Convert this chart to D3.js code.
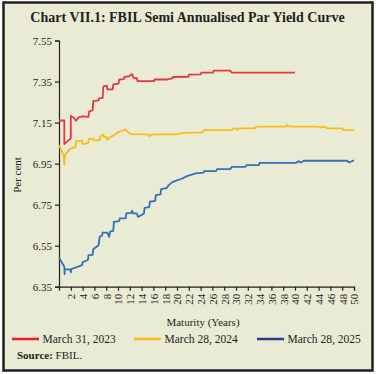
<!DOCTYPE html>
<html>
<head>
<meta charset="utf-8">
<script src="https://cdn.jsdelivr.net/npm/d3@7"></script>
<style>
  body { margin: 0; background: #fff; }
  svg text { font-family: "Liberation Serif", "Times New Roman", serif; fill: #231f20; }
</style>
</head>
<body>
<svg id="canvas" width="376" height="374"></svg>
<script>
// ---------------------------------------------------------------- //
// Data (maturity in years, yield in per cent)

var mar2023 = [[0,7.16],[0.9,7.16],[0.9,7.045],[2,7.073],[2,7.182],[2.5,7.175],[2.9,7.159],[3.3,7.175],[4,7.18],[5,7.178],
  [5.1,7.203],[5.7,7.21],[5.8,7.255],[6.7,7.258],[6.8,7.268],[7.4,7.27],[7.5,7.325],[8.1,7.33],[8.2,7.312],[9.1,7.312],
  [9.2,7.336],[10.1,7.34],[10.2,7.36],[11,7.362],[11.1,7.373],[12,7.376],[12.1,7.382],[12.4,7.386],[12.6,7.368],[13.2,7.366],
  [13.3,7.352],[16.1,7.352],[16.2,7.36],[18.4,7.36],[19.2,7.365],[19.3,7.372],[21.9,7.373],[22,7.384],[24,7.385],[24.1,7.393],
  [26.1,7.393],[26.2,7.403],[29,7.403],[29.3,7.393],[40,7.393]];

var mar2024 = [[0,7.04],[0.8,6.99],[0.9,6.945],[1,6.99],[1.5,7.01],[2,7.024],[2.8,7.03],[2.9,7.061],[3.9,7.061],[4,7.045],
  [4.9,7.05],[5.1,7.07],[5.8,7.072],[5.9,7.063],[6.9,7.063],[7,7.084],[7.4,7.086],[7.5,7.094],[7.6,7.08],[8.1,7.08],
  [8.2,7.066],[8.5,7.075],[9.2,7.087],[10,7.103],[11,7.113],[11.2,7.117],[12.1,7.094],[15.2,7.092],[15.3,7.084],[15.6,7.09],
  [16.2,7.092],[20.1,7.092],[20.9,7.1],[24.2,7.102],[24.6,7.113],[29.3,7.113],[29.6,7.122],[30.1,7.12],[30.3,7.114],[30.6,7.122],
  [33.2,7.122],[33.4,7.13],[38.4,7.13],[38.7,7.138],[39,7.13],[44,7.13],[44.3,7.125],[44.6,7.13],[45.2,7.128],[45.4,7.122],
  [48,7.122],[48.2,7.113],[50,7.113]];

var mar2025 = [[0,6.492],[0.9,6.447],[0.95,6.411],[1,6.434],[1.9,6.434],[2,6.42],[2.1,6.436],[3,6.445],[3.9,6.455],[4,6.47],
  [4.9,6.48],[5,6.504],[5.7,6.505],[5.8,6.533],[6.7,6.552],[6.9,6.593],[7.3,6.6],[7.4,6.614],[8.2,6.614],[8.5,6.593],
  [8.7,6.62],[9.2,6.622],[9.3,6.666],[10.2,6.67],[10.3,6.683],[11.3,6.683],[11.4,6.707],[12.2,6.71],[12.4,6.72],[12.5,6.707],
  [13.2,6.707],[13.4,6.69],[14.4,6.707],[14.5,6.734],[15.3,6.738],[15.4,6.764],[16.3,6.768],[16.4,6.796],[17.2,6.8],[17.3,6.826],
  [18.2,6.83],[18.6,6.845],[19.2,6.86],[20,6.868],[20.7,6.875],[21.8,6.89],[23.2,6.902],[24.5,6.906],[24.6,6.913],[26.6,6.913],
  [26.8,6.923],[29,6.923],[29.3,6.934],[31.6,6.934],[31.8,6.943],[33.9,6.943],[34,6.954],[40.2,6.954],[40.6,6.962],[41,6.955],
  [41.5,6.964],[48.8,6.964],[49.2,6.955],[49.8,6.964],[50,6.964]];

var seriesNames = ['March 31, 2023', 'March 28, 2024', 'March 28, 2025'];
var yTicks = [6.35, 6.55, 6.75, 6.95, 7.15, 7.35, 7.55];
var xTicks = d3.range(2, 51, 2);

// ---------------------------------------------------------------- //
// Frame

var svg = d3.select('#canvas');
svg.append('rect')
  .attr('x', 3.5).attr('y', 2.5).attr('width', 369).attr('height', 368)
  .style('fill', '#e9ebd5').style('stroke', '#231f20').style('stroke-width', 2.5);

svg.append('text').attr('x', 187.5).attr('y', 22).attr('text-anchor', 'middle')
  .style('font-size', '14px').style('font-weight', 'bold')
  .text('Chart VII.1: FBIL Semi Annualised Par Yield Curve');

// ---------------------------------------------------------------- //
// Scales and axes

var x = d3.scaleLinear().domain([0, 50]).range([59, 354]);
var y = d3.scaleLinear().domain([6.35, 7.55]).range([286.7, 40.5]);

var yAxis = svg.append('g').attr('transform', 'translate(59,0)')
  .call(d3.axisLeft(y).tickValues(yTicks).tickFormat(d3.format('.2f')).tickSizeOuter(0).tickSize(4).tickPadding(3));
var xAxis = svg.append('g').attr('transform', 'translate(0,286.7)')
  .call(d3.axisBottom(x).tickValues(xTicks).tickSizeOuter(0).tickSize(4));

[yAxis, xAxis].forEach(function(a){
  a.select('.domain').style('stroke', '#231f20').style('stroke-width', 1.2);
  a.selectAll('.tick line').style('stroke', '#231f20').style('stroke-width', 1.2);
  a.selectAll('text').style('font-family', '"Liberation Serif", serif').style('font-size', '11px').style('fill', '#231f20');
});
xAxis.selectAll('text')
  .attr('transform', 'rotate(-90)').attr('x', -7).attr('y', 0).attr('dy', '0.35em')
  .style('text-anchor', 'end');

svg.append('text').attr('transform', 'translate(21,175) rotate(-90)').attr('text-anchor', 'middle')
  .style('font-size', '11px').text('Per cent');
svg.append('text').attr('x', 203).attr('y', 326).attr('text-anchor', 'middle')
  .style('font-size', '11px').text('Maturity (Years)');

// ---------------------------------------------------------------- //
// Lines

var lineGen = d3.line().x(function(d){ return x(d[0]); }).y(function(d){ return y(d[1]); });
var lineColors = ['#e8363f', '#fdbc14', '#2f72bb'];
var legendColors = ['#ed1c24', '#fdbc14', '#2b3990'];

[mar2023, mar2024, mar2025].forEach(function(s, i){
  svg.append('path').attr('d', lineGen(s))
    .style('fill', 'none').style('stroke', lineColors[i]).style('stroke-width', 1.8)
    .style('stroke-linejoin', 'round');
});

// ---------------------------------------------------------------- //
// Legend and source

var legendX = [12, 134, 257];
seriesNames.forEach(function(name, i){
  var g = svg.append('g').attr('transform', 'translate(' + legendX[i] + ',339)');
  g.append('line').attr('x1', 0).attr('x2', 27).attr('y1', 0).attr('y2', 0)
    .style('stroke', legendColors[i]).style('stroke-width', 2.5);
  g.append('text').attr('x', 30.5).attr('y', 4).style('font-size', '11.5px').text(name);
});

var src = svg.append('text').attr('x', 17).attr('y', 359).style('font-size', '11px');
src.append('tspan').style('font-weight', 'bold').text('Source:');
src.append('tspan').text(' FBIL.');
</script>
</body>
</html>
